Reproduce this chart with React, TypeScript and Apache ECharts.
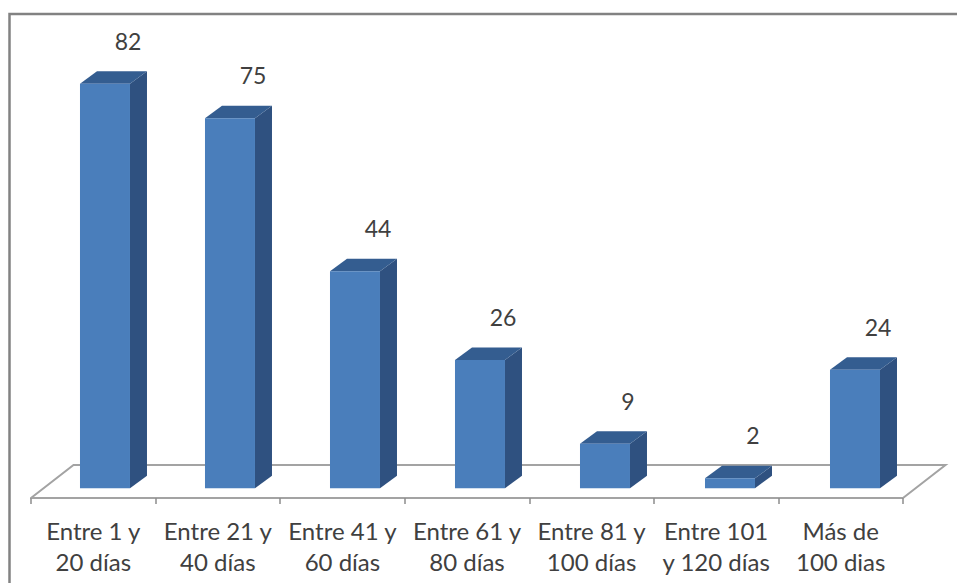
import React, { useEffect, useRef } from "react";
import * as echarts from "echarts";

const categories = [
  "Entre 1 y\n20 días",
  "Entre 21 y\n40 días",
  "Entre 41 y\n60 días",
  "Entre 61 y\n80 días",
  "Entre 81 y\n100 días",
  "Entre 101\ny 120 días",
  "Más de\n100 dias",
];
const values = [82, 75, 44, 26, 9, 2, 24];

const FONT = "Lato, 'Open Sans', sans-serif";
const DX = 17;
const DY = 12.5;
const BAR_W = 50;

export default function App() {
  const ref = useRef<HTMLDivElement>(null);
  useEffect(() => {
    const chart = echarts.init(ref.current!, undefined, { renderer: "svg" });
    chart.setOption({
      animation: false,
      backgroundColor: "#ffffff",
      grid: { left: 31, right: 54, top: 44.4, height: 453.6 },
      xAxis: {
        type: "category",
        data: categories,
        axisLine: { onZero: false, lineStyle: { color: "#a3a3a3", width: 2 } },
        axisTick: { show: true, length: 6, alignWithLabel: false, lineStyle: { color: "#8c8c8c", width: 1.5 } },
        axisLabel: { color: "#404040", fontSize: 24, fontFamily: FONT, lineHeight: 31, margin: 17, interval: 0 },
        splitLine: { show: false },
      },
      yAxis: { type: "value", min: -2, max: 90, show: false, splitLine: { show: false } },
      graphic: [
        {
          type: "polyline",
          silent: true,
          z: -1,
          shape: { points: [[9.5, 600], [9.5, 14], [957, 14]] },
          style: { fill: "none", stroke: "#828282", lineWidth: 2.5 },
        },
      ],
      series: [
        {
          type: "custom",
          z: 1,
          silent: true,
          data: [[0, 0]],
          renderItem: (params: any) => {
            const cs = params.coordSys;
            const bottom = cs.y + cs.height;
            const depthX = 42.5;
            const depthY = 33;
            return {
              type: "polyline",
              shape: {
                points: [
                  [cs.x, bottom],
                  [cs.x + depthX, bottom - depthY],
                  [cs.x + cs.width + depthX, bottom - depthY],
                  [cs.x + cs.width, bottom],
                ],
              },
              style: { fill: "none", stroke: "#a3a3a3", lineWidth: 2 },
            };
          },
        },
        {
          type: "custom",
          z: 3,
          silent: true,
          data: values.map((v, i) => [i, v]),
          renderItem: (_params: any, api: any) => {
            const i = api.value(0);
            const v = api.value(1);
            const [cx, top] = api.coord([i, v]);
            const [, base] = api.coord([i, 0]);
            const mid = cx + 11.7 + 0.43 * i;
            const x0 = mid - BAR_W / 2;
            const x1 = x0 + BAR_W;
            return {
              type: "group",
              children: [
                {
                  type: "polygon",
                  shape: { points: [[x1, top], [x1 + DX, top - DY], [x1 + DX, base - DY], [x1, base]] },
                  style: { fill: "#2f5180" },
                },
                {
                  type: "polygon",
                  shape: { points: [[x0, top], [x0 + DX, top - DY], [x1 + DX, top - DY], [x1, top]] },
                  style: { fill: "#345d90" },
                },
                {
                  type: "rect",
                  shape: { x: x0, y: top, width: BAR_W, height: base - top },
                  style: { fill: "#4a7ebb" },
                },
                {
                  type: "text",
                  style: {
                    x: mid + 23,
                    y: top - 43,
                    text: String(v),
                    fill: "#404040",
                    font: `23px ${FONT}`,
                    align: "center",
                    verticalAlign: "middle",
                  },
                },
              ],
            };
          },
        },
      ],
    });
    return () => chart.dispose();
  }, []);
  return (
    <div
      ref={ref}
      style={{ position: "absolute", left: 0, top: 0, width: 957, height: 583 }}
    />
  );
}
